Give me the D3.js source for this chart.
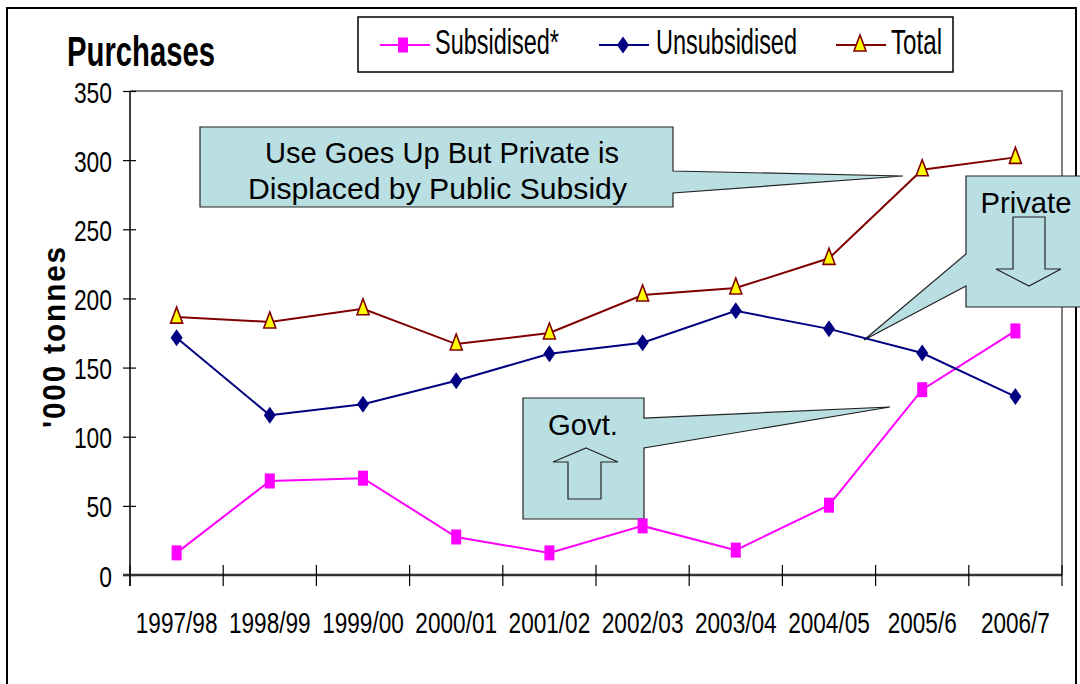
<!DOCTYPE html>
<html><head><meta charset="utf-8">
<script src="https://cdn.jsdelivr.net/npm/d3@7"></script>
<style>
html,body{margin:0;padding:0;background:#fff;}
svg{display:block;}
</style></head>
<body>
<svg id="chart" width="1080" height="684"></svg>
<script>
const categories = ["1997/98","1998/99","1999/00","2000/01","2001/02","2002/03","2003/04","2004/05","2005/6","2006/7"];
const subsidised = [16, 68, 70, 27.5, 16, 35.5, 18, 50.5, 134, 176.5];
const unsubsidised = [171.5, 115.5, 123.5, 140.5, 160, 168, 191, 178, 160.5, 129];
const total = [186.5, 183, 192.5, 167, 175, 202.5, 207.5, 229, 293, 302];
const yTicks = [0, 50, 100, 150, 200, 250, 300, 350];
const seriesNames = ["Subsidised*", "Unsubsidised", "Total"];

const narrow = "'Liberation Sans Narrow','Arial Narrow','Liberation Sans',Arial,sans-serif";
const sans = "'Liberation Sans',Arial,sans-serif";
const calloutFill = "#BADFE3";

const svg = d3.select("#chart");
const x = d3.scaleBand().domain(categories).range([130, 1062]).padding(0);
const y = d3.scaleLinear().domain([0, 350]).range([575, 91]);

// outer frame
svg.append("rect").attr("x",7).attr("y",8).attr("width",1069).attr("height",700)
  .attr("fill","#fff").attr("stroke","#000").attr("stroke-width",2);

// plot area border (top & right)
svg.append("path").attr("d",`M${x.range()[0]},${y(350)}H${x.range()[1]}V${y(0)}`)
  .attr("fill","none").attr("stroke","#808080").attr("stroke-width",2);

// title
svg.append("text").attr("x",67).attr("y",66).text("Purchases")
  .attr("font-family",narrow).attr("font-weight","bold").attr("font-size",43)
  .attr("textLength",148).attr("lengthAdjust","spacingAndGlyphs").attr("fill","#000");

// y axis title
svg.append("text").attr("transform","translate(65,336.5) rotate(-90)")
  .attr("text-anchor","middle").text("'000 tonnes")
  .attr("font-family",sans).attr("font-weight","bold").attr("font-size",32)
  .attr("letter-spacing",2)
  .attr("textLength",183).attr("lengthAdjust","spacingAndGlyphs").attr("fill","#000");

// y axis
const yAxis = d3.axisLeft(y).tickValues(yTicks).tickSizeInner(6).tickSizeOuter(0).tickPadding(12);
const gy = svg.append("g").attr("transform",`translate(${x.range()[0]},0)`).call(yAxis);
gy.select(".domain").remove();
gy.selectAll(".tick line").attr("x1",-7).attr("x2",6).attr("stroke","#000").attr("stroke-width",1.2);
gy.selectAll(".tick text").attr("font-family",narrow).attr("font-size",30).attr("fill","#000")
  .attr("x",-18).attr("dy",null).attr("y",11)
  .each(function(d){ const s=String(d); d3.select(this).attr("textLength", s.length*12.7).attr("lengthAdjust","spacingAndGlyphs"); });
svg.append("line").attr("x1",x.range()[0]).attr("x2",x.range()[0]).attr("y1",y(350)).attr("y2",y(0)+11)
  .attr("stroke","#000").attr("stroke-width",1.5);

// x axis
const xAxis = d3.axisBottom(x).tickSize(0).tickPadding(0);
const gx = svg.append("g").attr("transform",`translate(0,${y(0)})`).call(xAxis);
gx.select(".domain").remove();
gx.selectAll(".tick text").attr("font-family",narrow).attr("font-size",22).attr("fill","#000")
  .attr("y",0).attr("dy",null).attr("transform","translate(0,58) scale(1,1.36)")
  .each(function(d){ const digits=d.replace("/","").length; d3.select(this).attr("textLength", digits*12.7+5.5).attr("lengthAdjust","spacingAndGlyphs"); });
svg.append("line").attr("x1",x.range()[0]-7).attr("x2",x.range()[1]).attr("y1",y(0)).attr("y2",y(0))
  .attr("stroke","#333").attr("stroke-width",2.5);
const boundaries = categories.map(c => x(c)).concat([x.range()[1]]);
svg.append("g").selectAll("line").data(boundaries).join("line")
  .attr("x1",d=>d).attr("x2",d=>d).attr("y1",y(0)-10).attr("y2",y(0)+11)
  .attr("stroke","#000").attr("stroke-width",1.2);

// callouts
const callG = svg.append("g").attr("fill",calloutFill).attr("stroke","#222").attr("stroke-width",1.2);
callG.append("path").attr("d","M200,127H673V171L903,176L673,193V207H200Z");
callG.append("path").attr("d","M966,176H1085V307H966V286L864,340L966,254Z");
callG.append("path").attr("d","M523,398H644V418L890,407L644,448V519H523Z");
// arrows
callG.append("path").attr("d","M1013,217H1045V269H1061L1029,286L996,269H1013Z");
callG.append("path").attr("d","M586,448L618,462H601V499H568V462H553Z");

const ctext = svg.append("g").attr("font-family",sans).attr("fill","#000").attr("text-anchor","middle");
ctext.append("text").attr("x",442).attr("y",163).attr("font-size",29).text("Use Goes Up But Private is")
  .attr("textLength",354).attr("lengthAdjust","spacingAndGlyphs");
ctext.append("text").attr("x",437.5).attr("y",199).attr("font-size",29).text("Displaced by Public Subsidy")
  .attr("textLength",379).attr("lengthAdjust","spacingAndGlyphs");
ctext.append("text").attr("x",1026).attr("y",213).attr("font-size",29).text("Private")
  .attr("textLength",91).attr("lengthAdjust","spacingAndGlyphs");
ctext.append("text").attr("x",583).attr("y",435).attr("font-size",29).text("Govt.")
  .attr("textLength",70).attr("lengthAdjust","spacingAndGlyphs");

// series
const series = [
  {name: seriesNames[0], values: subsidised, color: "#FF00FF", marker: "square"},
  {name: seriesNames[1], values: unsubsidised, color: "#000080", marker: "diamond"},
  {name: seriesNames[2], values: total, color: "#800000", marker: "triangle"}
];
function markerPath(type){
  if(type==="square") return "M-5,-7.5H5V7.5H-5Z";
  if(type==="diamond") return "M0,-8.5L6,0L0,8.5L-6,0Z";
  return "M0,-10L6,6H-6Z";
}
function drawMarker(g, s){
  const p = g.append("path").attr("d", markerPath(s.marker));
  if(s.marker==="triangle") p.attr("fill","#FFFF00").attr("stroke",s.color).attr("stroke-width",1.6);
  else p.attr("fill",s.color);
}
const line = d3.line().x((d,i)=>x(categories[i])+x.bandwidth()/2).y(d=>y(d));
series.forEach(s=>{
  svg.append("path").datum(s.values).attr("d",line).attr("fill","none")
    .attr("stroke",s.color).attr("stroke-width",2);
});
series.forEach(s=>{
  s.values.forEach((v,i)=>{
    const g = svg.append("g").attr("transform",`translate(${x(categories[i])+x.bandwidth()/2},${y(v)})`);
    drawMarker(g, s);
  });
});

// legend
svg.append("rect").attr("x",358).attr("y",17).attr("width",595).attr("height",55)
  .attr("fill","#fff").attr("stroke","#000").attr("stroke-width",1.5);
const legendItems = [
  {s: series[0], x0: 380, x1: 430, mx: 403, tx: 435, tw: 124},
  {s: series[1], x0: 599, x1: 649, mx: 623, tx: 656, tw: 141},
  {s: series[2], x0: 836, x1: 886, mx: 860, tx: 891, tw: 51}
];
legendItems.forEach(it=>{
  svg.append("line").attr("x1",it.x0).attr("x2",it.x1).attr("y1",45).attr("y2",45)
    .attr("stroke",it.s.color).attr("stroke-width",2);
  const g = svg.append("g").attr("transform",`translate(${it.mx},45)`);
  drawMarker(g, it.s);
  svg.append("text").attr("x",it.tx).attr("y",54).text(it.s.name)
    .attr("font-family",narrow).attr("font-size",35).attr("fill","#000")
    .attr("textLength",it.tw).attr("lengthAdjust","spacingAndGlyphs");
});
</script>
</body></html>
